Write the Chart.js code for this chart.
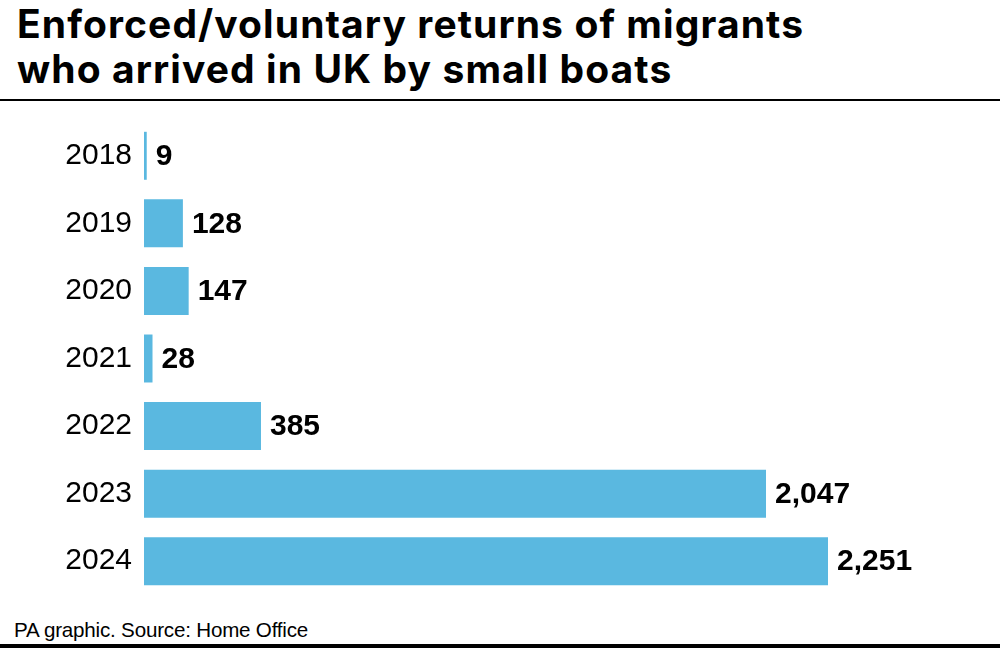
<!DOCTYPE html>
<html>
<head>
<meta charset="utf-8">
<script src="https://cdn.jsdelivr.net/npm/chart.js@4"></script>
<style>
  html, body { margin: 0; padding: 0; background: #fff; }
  body { width: 1000px; height: 649px; position: relative; overflow: hidden; font-family: "Liberation Sans", Arial, sans-serif; }
  #title { position: absolute; left: 17px; top: 1px; font-family: Inter, "Liberation Sans", sans-serif; font-size: 39px; font-weight: bold; line-height: 45px; color: #000; letter-spacing: 1.1px; }
  #rule { position: absolute; left: 0; top: 99px; width: 1000px; height: 2px; background: #000; }
  #wrap { position: absolute; left: 0; top: 100px; width: 1000px; height: 517px; }
  #source { position: absolute; left: 14px; top: 618px; font-size: 20.6px; color: #000; letter-spacing: -0.2px; }
  #bottom { position: absolute; left: 0; top: 644px; width: 1000px; height: 4px; background: #000; }
</style>
</head>
<body>
<div id="title">Enforced/voluntary returns of migrants<br>who arrived in UK by small boats</div>
<div id="rule"></div>
<div id="wrap"><canvas id="chart"></canvas></div>
<div id="source">PA graphic. Source: Home Office</div>
<div id="bottom"></div>
<script>
const years = ['2018', '2019', '2020', '2021', '2022', '2023', '2024'];
const returns = [9, 128, 147, 28, 385, 2047, 2251];

const valueLabels = {
  id: 'valueLabels',
  afterDatasetsDraw(chart) {
    const ctx = chart.ctx;
    const meta = chart.getDatasetMeta(0);
    ctx.save();
    ctx.font = 'bold 30px "Liberation Sans", Arial, sans-serif';
    ctx.fillStyle = '#000';
    ctx.textBaseline = 'middle';
    ctx.textAlign = 'left';
    meta.data.forEach((bar, i) => {
      ctx.fillText(returns[i].toLocaleString('en-GB'), bar.x + 9, bar.y + 1);
    });
    ctx.restore();
  }
};

new Chart(document.getElementById('chart'), {
  type: 'bar',
  data: {
    labels: years,
    datasets: [{
      data: returns,
      backgroundColor: '#5ab8e0',
      borderWidth: 0,
      categoryPercentage: 1,
      barPercentage: 0.71,
    }],
  },
  options: {
    indexAxis: 'y',
    responsive: true,
    maintainAspectRatio: false,
    animation: false,
    layout: { padding: { left: 0, right: 172, top: 0, bottom: 0 } },
    plugins: { legend: { display: false }, tooltip: { enabled: false } },
    scales: {
      x: { display: false, min: 0, max: Math.max(...returns) },
      y: {
        grid: { display: false },
        border: { display: false },
        afterFit(scale) { scale.width = 144; },
        ticks: { color: '#000', padding: 4, font: { size: 30, family: '"Liberation Sans", Arial, sans-serif' } },
      },
    },
  },
  plugins: [valueLabels],
});
</script>
</body>
</html>
